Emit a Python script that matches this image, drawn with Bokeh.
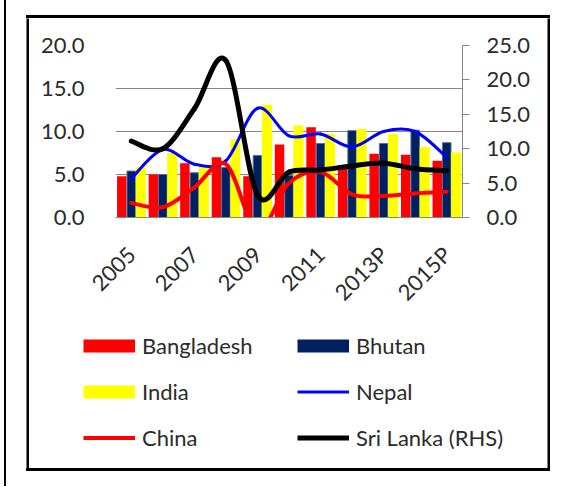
import math
from bokeh.plotting import figure
from bokeh.layouts import row, column
from bokeh.models import (Range1d, LinearAxis, FixedTicker, NumeralTickFormatter, Legend,
                          LegendItem, ColumnDataSource, Spacer, Div)
from bokeh.transform import dodge
from bokeh.embed import file_html
from bokeh.resources import INLINE

# ---------------- data ----------------
years = ["2005", "2006", "2007", "2008", "2009", "2010", "2011", "2012", "2013P", "2014P", "2015P"]
shown_year_labels = ["2005", "2007", "2009", "2011", "2013P", "2015P"]

bangladesh = [4.8, 5.0, 6.3, 7.0, 4.8, 8.5, 10.5, 6.1, 7.4, 7.3, 6.6]
bhutan     = [5.4, 5.0, 5.2, 5.8, 7.2, 4.9, 8.6, 10.1, 8.6, 10.15, 8.7]
india      = [5.8, 7.5, 6.1, 9.1, 13.1, 10.7, 9.7, 10.3, 9.7, 8.2, 7.55]
nepal      = [4.5, 7.9, 6.2, 6.6, 12.7, 9.5, 9.7, 8.2, 10.0, 10.0, 7.0]
china      = [1.7, 1.2, 3.5, 6.2, -1.5, 4.0, 5.3, 2.7, 2.5, 2.8, 3.0]
sri_lanka  = [11.1, 10.0, 15.8, 22.8, 3.3, 6.6, 6.9, 7.5, 7.9, 7.1, 6.8]   # RHS

left_ticks = [0, 5, 10, 15, 20]
right_ticks = [0, 5, 10, 15, 20, 25]

FONT = "Lato"
TEXT = "#2b2b2b"
GRID = "#868686"
FS = "22px"

RED = "#FF0000"
NAVY = "#002060"
YELLOW = "#FFFF00"
BLUE = "#0000FF"
BLACK = "#000000"

n = len(years)
xc = [i + 0.5 for i in range(n)]          # category centres on the numeric x scale

# ---------------- main chart ----------------
p = figure(x_range=Range1d(0, n), y_range=Range1d(0, 20),
           width=518, height=300, output_backend="svg", toolbar_location=None,
           min_border_left=86, min_border_right=85, min_border_top=27, min_border_bottom=101)
p.extra_y_ranges = {"right": Range1d(0, 25)}
p.outline_line_color = None
p.background_fill_color = "white"
p.border_fill_color = "white"

src = ColumnDataSource(dict(xc=xc, bangladesh=bangladesh, bhutan=bhutan, india=india))
p.vbar(x=dodge("xc", -0.3), top="bangladesh", width=0.3, source=src,
       fill_color=RED, line_color=None)
p.vbar(x=dodge("xc", 0.0), top="bhutan", width=0.27, source=src,
       fill_color=NAVY, line_color="#4f6fa0", line_width=1)
p.vbar(x=dodge("xc", 0.3), top="india", width=0.32, source=src,
       fill_color=YELLOW, line_color=None)


def bezier_source(vals):
    m = len(vals)
    d = dict(x0=[], y0=[], x1=[], y1=[], cx0=[], cy0=[], cx1=[], cy1=[])
    for i in range(m - 1):
        a = i - 1 if i > 0 else i
        b = i + 2 if i + 2 < m else i + 1
        d["x0"].append(xc[i]); d["y0"].append(vals[i])
        d["x1"].append(xc[i + 1]); d["y1"].append(vals[i + 1])
        d["cx0"].append(xc[i] + (xc[i + 1] - xc[a]) / 6)
        d["cy0"].append(vals[i] + (vals[i + 1] - vals[a]) / 6)
        d["cx1"].append(xc[i + 1] - (xc[b] - xc[i]) / 6)
        d["cy1"].append(vals[i + 1] - (vals[b] - vals[i]) / 6)
    return ColumnDataSource(d)


def smooth(vals, color, width, **kw):
    p.bezier(x0="x0", y0="y0", x1="x1", y1="y1", cx0="cx0", cy0="cy0", cx1="cx1", cy1="cy1",
             source=bezier_source(vals), line_color=color, line_width=width,
             line_cap="round", **kw)


smooth(nepal, BLUE, 3)
smooth(china, RED, 4)
smooth(sri_lanka, BLACK, 5, y_range_name="right")

p.xgrid.grid_line_color = None
p.ygrid.ticker = FixedTicker(ticks=left_ticks[1:])
p.ygrid.grid_line_color = GRID

ya = p.yaxis[0]
ya.ticker = FixedTicker(ticks=left_ticks)
ya.formatter = NumeralTickFormatter(format="0.0")
ya.axis_line_color = None
ya.major_tick_line_color = None
ya.minor_tick_line_color = None
ya.major_label_standoff = 25
ya.major_label_text_font = FONT
ya.major_label_text_font_size = FS
ya.major_label_text_color = TEXT

ra = LinearAxis(y_range_name="right", ticker=FixedTicker(ticks=right_ticks),
                formatter=NumeralTickFormatter(format="0.0"))
ra.axis_line_color = GRID
ra.major_tick_line_color = GRID
ra.major_tick_out = 7
ra.major_tick_in = 0
ra.minor_tick_line_color = None
ra.major_label_standoff = 17
ra.major_label_text_font = FONT
ra.major_label_text_font_size = FS
ra.major_label_text_color = TEXT
p.add_layout(ra, "right")

label_pos = [xc[years.index(y)] for y in shown_year_labels]
xa = p.xaxis[0]
xa.ticker = FixedTicker(ticks=label_pos)
xa.major_label_overrides = {xc[years.index(y)]: y for y in shown_year_labels}
xa.axis_line_color = GRID
xa.major_tick_line_color = None
xa.minor_tick_line_color = None
xa.major_label_orientation = math.pi / 4
xa.major_label_standoff = 27
xa.major_label_text_font = FONT
xa.major_label_text_font_size = FS
xa.major_label_text_color = TEXT

# ---------------- legend (own canvas under the chart) ----------------
lg = figure(width=518, height=150, x_range=Range1d(0, 1), y_range=Range1d(0, 1),
            output_backend="svg", toolbar_location=None, min_border=0,
            x_axis_location=None, y_axis_location=None, outline_line_color=None)
lg.grid.visible = False


def dummy(color, width):
    # sample swatch drawn outside the visible range; only its legend glyph shows
    return lg.line(x=[5, 6], y=[5, 5], line_color=color, line_width=width)


items = [
    LegendItem(label="Bangladesh", renderers=[dummy(RED, 13)]),
    LegendItem(label="Bhutan", renderers=[dummy(NAVY, 13)]),
    LegendItem(label="India", renderers=[dummy(YELLOW, 13)]),
    LegendItem(label="Nepal", renderers=[dummy(BLUE, 3)]),
    LegendItem(label="China", renderers=[dummy(RED, 4)]),
    LegendItem(label="Sri Lanka (RHS)", renderers=[dummy(BLACK, 5)]),
]
legend = Legend(items=items, location=(54, 15), orientation="horizontal", ncols=2,
                glyph_width=52, glyph_height=31, label_height=31, label_width=140,
                label_standoff=7, spacing=15, padding=0, margin=0,
                border_line_color=None, background_fill_alpha=0,
                label_text_font=FONT, label_text_font_size=FS, label_text_color=TEXT)
lg.add_layout(legend, "center")


# ---------------- black frame lines ----------------
def vline_fig(w, h):
    b = figure(width=w, height=h, output_backend="svg", toolbar_location=None, min_border=0,
               x_axis_location=None, y_axis_location=None, outline_line_color=None,
               background_fill_color="black", border_fill_color="black",
               x_range=Range1d(0, 1), y_range=Range1d(0, 1))
    b.grid.visible = False
    return b


def line_div(w, h):
    return Div(text="", width=w, height=h, margin=0, styles={"background-color": "black"})


inner = row(vline_fig(3, 450), column(p, row(Spacer(width=0), lg)), vline_fig(3, 450))
boxed = column(Spacer(height=15), line_div(524, 3), inner, line_div(524, 3))
page = row(Spacer(width=4), line_div(2, 486), Spacer(width=20), boxed)

open("out.html", "w").write(file_html(page, INLINE))
